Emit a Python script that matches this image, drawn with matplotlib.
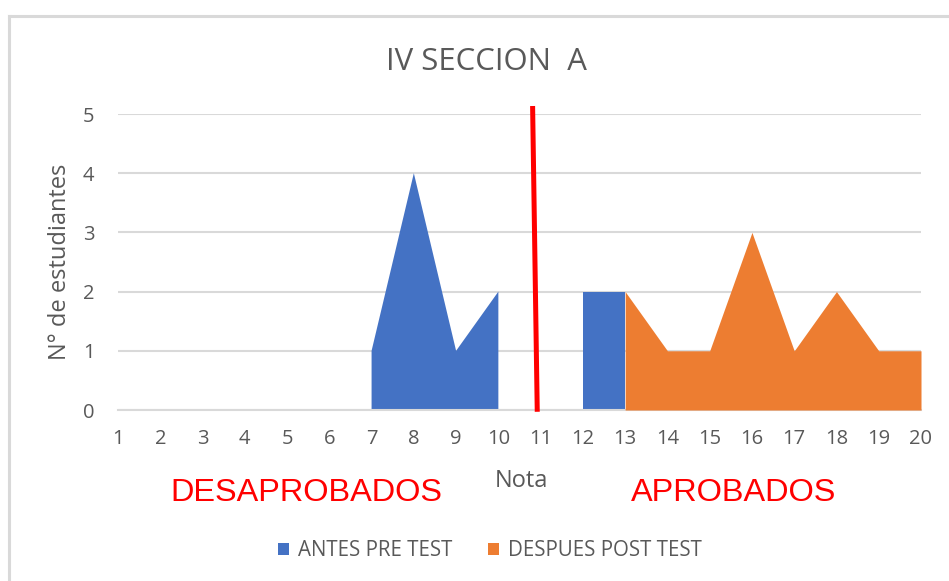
import numpy as np
import matplotlib
matplotlib.use("Agg")
import matplotlib.pyplot as plt
from matplotlib.lines import Line2D

notas = list(range(1, 21))
nan = np.nan
antes_pre_test = [nan, nan, nan, nan, nan, nan, 1, 4, 1, 2, nan, 2, 2, nan, nan, nan, nan, nan, nan, nan]
despues_post_test = [nan, nan, nan, nan, nan, nan, nan, nan, nan, nan, nan, nan, 2, 1, 1, 3, 1, 2, 1, 1]
y_ticks = [0, 1, 2, 3, 4, 5]
divider_x = [10.81, 10.92]
divider_y = [5.135, -0.03]

gray = "#595959"
blue = "#4472C4"
orange = "#ED7D31"
grid = "#D9D9D9"
font = "Open Sans"

fig = plt.figure(figsize=(9.49, 5.81), dpi=100)
ax = fig.add_axes([118/949, 1-410/581, (921-118)/949, (410-114)/581])

ax.fill_between(notas, 0, antes_pre_test, color=blue, linewidth=0, zorder=2, label="ANTES PRE TEST")
ax.fill_between(notas, 0, despues_post_test, color=orange, linewidth=0, zorder=3, label="DESPUES POST TEST")
ax.plot(divider_x, divider_y, color="#FF0000", linewidth=3.6, zorder=5, clip_on=False, solid_capstyle="butt")

ax.set_xlim(1, 20)
ax.set_ylim(0, 5)
ax.set_xticks(notas)
ax.set_yticks(y_ticks)
ax.set_xticklabels([str(n) for n in notas], fontsize=14.5, color=gray, family=font)
ax.set_yticklabels([str(v) for v in y_ticks], fontsize=14.5, color=gray, family=font)
ax.tick_params(axis="both", length=0)
ax.tick_params(axis="x", pad=14)
ax.tick_params(axis="y", pad=17)
ax.grid(axis="y", color=grid, linewidth=1.5, zorder=0)
ax.set_axisbelow(True)
for s in ["top", "right", "left"]:
    ax.spines[s].set_visible(False)
ax.spines["bottom"].set_color(grid)
ax.spines["bottom"].set_linewidth(1.5)

fig.text(486/949, 1-62/581, "IV SECCION  A", ha="center", va="center", fontsize=22.4, color=gray, family=font)
fig.text(60/949, 1-262/581, "N° de estudiantes", ha="center", va="center", rotation=90, fontsize=17, color=gray, family=font)
fig.text(521/949, 1-481/581, "Nota", ha="center", va="center", fontsize=17, color=gray, family=font)
fig.text(306/949, 1-493/581, "DESAPROBADOS", ha="center", va="center", fontsize=23.4, color="#FF0000", family="Liberation Sans")
fig.text(734/949, 1-493/581, "APROBADOS", ha="center", va="center", fontsize=23.4, color="#FF0000", family="Liberation Sans")

leg = fig.legend(loc="center", bbox_to_anchor=(490/949, 1-551/581), ncol=2, frameon=False,
                 prop={"family": font, "size": 14.8}, handlelength=0.55, handleheight=0.55,
                 handletextpad=0.45, columnspacing=1.7)
for t in leg.get_texts():
    t.set_color(gray)

fig.add_artist(Line2D([8.5/949, 8.5/949], [0, 1-15.5/581], color=grid, linewidth=2.2, transform=fig.transFigure))
fig.add_artist(Line2D([8.5/949, 1], [1-15.5/581, 1-15.5/581], color=grid, linewidth=2.2, transform=fig.transFigure))

fig.savefig("out.png", dpi=100, facecolor="white")
